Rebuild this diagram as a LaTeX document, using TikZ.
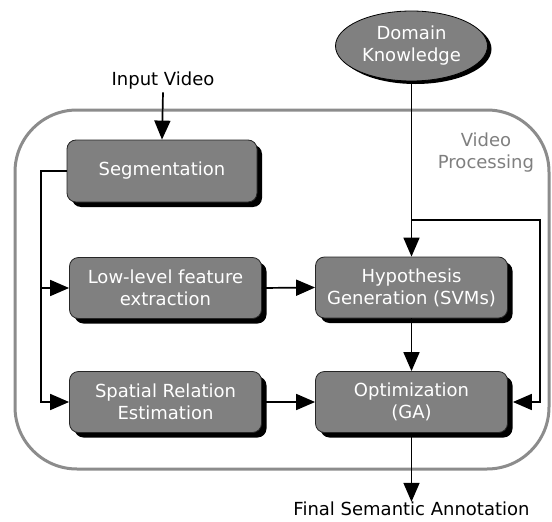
\documentclass[tikz,border=0pt]{standalone}
\usepackage{fontspec}
\setmainfont{DejaVu Sans}
\usetikzlibrary{shapes.geometric,shadows,arrows.meta,calc}
\definecolor{boxgray}{HTML}{808080}
\definecolor{framegray}{HTML}{8C8C8C}
\definecolor{labelgray}{HTML}{7F7F7F}
\begin{document}
\begin{tikzpicture}[x=1pt,y=-1pt,
  txt/.style={font=\fontsize{18}{22}\selectfont},
  stagebox/.style={txt, rectangle, rounded corners=9pt, fill=boxgray,
    draw=black!85, line width=0.8pt, text=white, align=center, inner sep=0pt,
    minimum width=192pt, minimum height=61pt,
    drop shadow={shadow xshift=5pt, shadow yshift=-5pt, fill=black, opacity=1}},
  source/.style={txt, ellipse, fill=boxgray, draw=black, line width=0.8pt,
    text=white, align=center, inner sep=0pt, minimum width=152pt, minimum height=70pt,
    drop shadow={shadow xshift=4pt, shadow yshift=-3pt, fill=black, opacity=1}},
  flow/.style={draw=black, line width=1.7pt, -{Triangle[length=19pt,width=16pt]}},
  plain/.style={draw=black, line width=1.7pt}]
\useasboundingbox (0,0) rectangle (552,522);

% processing frame
\draw[framegray, line width=3pt, rounded corners=62pt] (15,110) rectangle (549,469);
\node[txt, text=labelgray, align=center] (vp) at (486,153) {Video\\Processing};

% external input and knowledge source
\node[txt, anchor=base] (iv) at (163,85) {Input Video};
\node[source] (dk) at (411.5,46) {Domain\\Knowledge};

% processing stages
\node[stagebox, minimum width=190pt, minimum height=62pt] (seg) at (162,171) {Segmentation};
\node[stagebox] (low) at (165.5,288) {Low-level feature\\extraction};
\node[stagebox] (spat) at (165.5,402) {Spatial Relation\\Estimation};
\node[stagebox] (hyp) at (411.5,287.5) {Hypothesis\\Generation (SVMs)};
\node[stagebox] (opt) at (411.5,402) {Optimization\\(GA)};

% output label
\node[txt, anchor=base] (fin) at (411.5,515) {Final Semantic Annotation};

% routing points
\coordinate (lt) at (41,171);
\coordinate (br) at (411.5,220);
\coordinate (rt) at (540,220);

% connectors
\draw[flow] (iv.south) -- (seg.north);
\draw[flow] (seg.west) -- (lt) |- (spat.west);
\draw[flow] (lt |- low.west) -- (low.west);
\draw[flow] (low.east) -- (hyp.west);
\draw[flow] (spat.east) -- (opt.west);
\draw[flow] (dk.south) -- (hyp.north);
\draw[flow] (hyp.south) -- (opt.north);
\draw[flow] (br) -- (rt) |- ([xshift=5pt]opt.east);
\draw[flow] (opt.south) -- ([yshift=-4pt]fin.north);
\end{tikzpicture}
\end{document}
